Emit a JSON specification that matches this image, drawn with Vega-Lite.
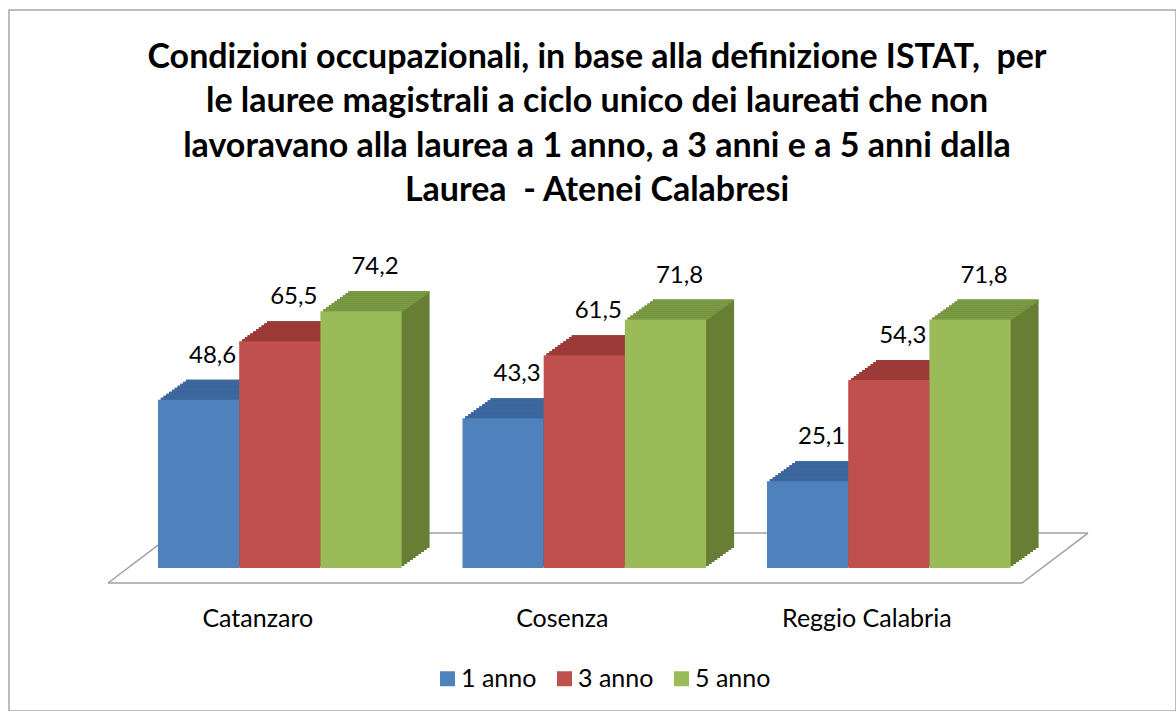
{
  "$schema": "https://vega.github.io/schema/vega-lite/v6.json",
  "autosize": "none",
  "width": 1167,
  "height": 701,
  "padding": {"left": 9, "top": 10, "right": 0, "bottom": 0},
  "background": "white",
  "config": {
    "font": "Lato",
    "view": {"stroke": "#a6a6a6", "strokeWidth": 1.5},
    "axisX": {"offset": -106, "domain": false, "ticks": false, "grid": false, "labelFontSize": 25, "labelFont": "Lato", "labelColor": "black", "labelPadding": 1, "labelOffset": -22, "labelAngle": 0},
    "axisY": {"disable": true}
  },
  "title": {
    "text": ["Condizioni occupazionali, in base alla definizione ISTAT,\u00a0 per", "le lauree magistrali a ciclo unico dei laureati che non", "lavoravano alla laurea a 1 anno, a 3 anni e a 5 anni dalla", "Laurea\u00a0 - Atenei Calabresi"],
    "font": "Lato", "fontSize": 34, "fontWeight": "bold", "color": "black", "lineHeight": 44.5,
    "anchor": "middle", "frame": "group", "baseline": "top", "offset": -198, "dx": 4.5
  },
  "data": {"values": [
    {"ateneo": "Catanzaro", "anno": "1 anno", "v": 48.6},
    {"ateneo": "Catanzaro", "anno": "3 anno", "v": 65.5},
    {"ateneo": "Catanzaro", "anno": "5 anno", "v": 74.2},
    {"ateneo": "Cosenza", "anno": "1 anno", "v": 43.3},
    {"ateneo": "Cosenza", "anno": "3 anno", "v": 61.5},
    {"ateneo": "Cosenza", "anno": "5 anno", "v": 71.8},
    {"ateneo": "Reggio Calabria", "anno": "1 anno", "v": 25.1},
    {"ateneo": "Reggio Calabria", "anno": "3 anno", "v": 54.3},
    {"ateneo": "Reggio Calabria", "anno": "5 anno", "v": 71.8}
  ]},
  "transform": [{"calculate": "replace(format(datum.v, '.1f'), '.', ',')", "as": "lab"}],
  "layer": [
    {
      "data": {"values": [{}]},
      "mark": {"type": "rule", "color": "#a0a0a0", "strokeWidth": 1.5, "xOffset": -50, "x2Offset": 11.4},
      "encoding": {
        "x": {"datum": "Catanzaro", "type": "nominal", "bandPosition": 0, "scale": {"domain": ["Catanzaro", "Cosenza", "Reggio Calabria"], "range": [96, 1054.6], "paddingInner": 0.2, "paddingOuter": 0.174}, "axis": {"title": null}},
        "x2": {"datum": "Reggio Calabria", "bandPosition": 1},
        "y": {"datum": -4.34, "type": "quantitative", "scale": {"domain": [0, 90], "range": [558, 246.6], "nice": false, "zero": false}, "axis": null}
      }
    },
    {
      "data": {"values": [{}]},
      "mark": {"type": "rule", "color": "#a0a0a0", "strokeWidth": 1.5, "xOffset": 16, "x2Offset": 77.4},
      "encoding": {
        "x": {"datum": "Catanzaro", "type": "nominal", "bandPosition": 0, "axis": {"title": null}},
        "x2": {"datum": "Reggio Calabria", "bandPosition": 1},
        "y": {"datum": 10.1, "type": "quantitative", "axis": null}
      }
    },
    {
      "data": {"values": [{}]},
      "mark": {"type": "rule", "color": "#a0a0a0", "strokeWidth": 1.5, "xOffset": -50, "x2Offset": 16},
      "encoding": {
        "x": {"datum": "Catanzaro", "type": "nominal", "bandPosition": 0, "axis": {"title": null}},
        "x2": {"datum": "Catanzaro", "bandPosition": 0},
        "y": {"datum": -4.34, "type": "quantitative", "axis": null},
        "y2": {"datum": 10.1}
      }
    },
    {
      "data": {"values": [{}]},
      "mark": {"type": "rule", "color": "#a0a0a0", "strokeWidth": 1.5, "xOffset": 11.4, "x2Offset": 77.4},
      "encoding": {
        "x": {"datum": "Reggio Calabria", "type": "nominal", "bandPosition": 1, "axis": {"title": null}},
        "x2": {"datum": "Reggio Calabria", "bandPosition": 1},
        "y": {"datum": -4.34, "type": "quantitative", "axis": null},
        "y2": {"datum": 10.1}
      }
    },
    {
      "encoding": {
        "x": {"field": "ateneo", "type": "nominal", "axis": {"title": null}},
        "y": {"field": "v", "type": "quantitative", "axis": null},
        "y2": {"datum": 0},
        "fill": {"field": "anno", "type": "nominal", "scale": {"domain": ["1 anno", "3 anno", "5 anno"], "range": ["#33578a", "#8a302d", "#687e35"]}, "legend": null}
      },
      "layer": [
        {"mark": {"type": "bar", "yOffset": -20, "y2Offset": -20}, "encoding": {"xOffset": {"field": "anno", "type": "nominal", "scale": {"domain": ["1 anno", "3 anno", "5 anno"], "range": [28, 271.6], "paddingInner": 0, "paddingOuter": 0}}}},
        {"mark": {"type": "bar", "yOffset": -18, "y2Offset": -18}, "encoding": {"xOffset": {"field": "anno", "type": "nominal", "scale": {"domain": ["1 anno", "3 anno", "5 anno"], "range": [25.2, 268.8], "paddingInner": 0, "paddingOuter": 0}}}},
        {"mark": {"type": "bar", "yOffset": -16, "y2Offset": -16}, "encoding": {"xOffset": {"field": "anno", "type": "nominal", "scale": {"domain": ["1 anno", "3 anno", "5 anno"], "range": [22.4, 266], "paddingInner": 0, "paddingOuter": 0}}}},
        {"mark": {"type": "bar", "yOffset": -14, "y2Offset": -14}, "encoding": {"xOffset": {"field": "anno", "type": "nominal", "scale": {"domain": ["1 anno", "3 anno", "5 anno"], "range": [19.6, 263.2], "paddingInner": 0, "paddingOuter": 0}}}},
        {"mark": {"type": "bar", "yOffset": -12, "y2Offset": -12}, "encoding": {"xOffset": {"field": "anno", "type": "nominal", "scale": {"domain": ["1 anno", "3 anno", "5 anno"], "range": [16.8, 260.4], "paddingInner": 0, "paddingOuter": 0}}}},
        {"mark": {"type": "bar", "yOffset": -10, "y2Offset": -10}, "encoding": {"xOffset": {"field": "anno", "type": "nominal", "scale": {"domain": ["1 anno", "3 anno", "5 anno"], "range": [14, 257.6], "paddingInner": 0, "paddingOuter": 0}}}},
        {"mark": {"type": "bar", "yOffset": -8, "y2Offset": -8}, "encoding": {"xOffset": {"field": "anno", "type": "nominal", "scale": {"domain": ["1 anno", "3 anno", "5 anno"], "range": [11.2, 254.8], "paddingInner": 0, "paddingOuter": 0}}}},
        {"mark": {"type": "bar", "yOffset": -6, "y2Offset": -6}, "encoding": {"xOffset": {"field": "anno", "type": "nominal", "scale": {"domain": ["1 anno", "3 anno", "5 anno"], "range": [8.4, 252], "paddingInner": 0, "paddingOuter": 0}}}},
        {"mark": {"type": "bar", "yOffset": -4, "y2Offset": -4}, "encoding": {"xOffset": {"field": "anno", "type": "nominal", "scale": {"domain": ["1 anno", "3 anno", "5 anno"], "range": [5.6, 249.2], "paddingInner": 0, "paddingOuter": 0}}}},
        {"mark": {"type": "bar", "yOffset": -2, "y2Offset": -2}, "encoding": {"xOffset": {"field": "anno", "type": "nominal", "scale": {"domain": ["1 anno", "3 anno", "5 anno"], "range": [2.8, 246.4], "paddingInner": 0, "paddingOuter": 0}}}}
      ],
      "resolve": {"scale": {"xOffset": "independent"}}
    },
    {
      "encoding": {
        "x": {"field": "ateneo", "type": "nominal", "axis": {"title": null}},
        "y": {"field": "v", "type": "quantitative", "axis": null},
        "y2": {"field": "v"},
        "fill": {"field": "anno", "type": "nominal", "scale": {"domain": ["1 anno", "3 anno", "5 anno"], "range": ["#3d69a0", "#9c3b38", "#7b9a44"]}, "legend": null}
      },
      "layer": [
        {"mark": {"type": "bar", "yOffset": -20, "y2Offset": -18}, "encoding": {"xOffset": {"field": "anno", "type": "nominal", "scale": {"domain": ["1 anno", "3 anno", "5 anno"], "range": [28, 271.6], "paddingInner": 0, "paddingOuter": 0}}}},
        {"mark": {"type": "bar", "yOffset": -18, "y2Offset": -16}, "encoding": {"xOffset": {"field": "anno", "type": "nominal", "scale": {"domain": ["1 anno", "3 anno", "5 anno"], "range": [25.2, 268.8], "paddingInner": 0, "paddingOuter": 0}}}},
        {"mark": {"type": "bar", "yOffset": -16, "y2Offset": -14}, "encoding": {"xOffset": {"field": "anno", "type": "nominal", "scale": {"domain": ["1 anno", "3 anno", "5 anno"], "range": [22.4, 266], "paddingInner": 0, "paddingOuter": 0}}}},
        {"mark": {"type": "bar", "yOffset": -14, "y2Offset": -12}, "encoding": {"xOffset": {"field": "anno", "type": "nominal", "scale": {"domain": ["1 anno", "3 anno", "5 anno"], "range": [19.6, 263.2], "paddingInner": 0, "paddingOuter": 0}}}},
        {"mark": {"type": "bar", "yOffset": -12, "y2Offset": -10}, "encoding": {"xOffset": {"field": "anno", "type": "nominal", "scale": {"domain": ["1 anno", "3 anno", "5 anno"], "range": [16.8, 260.4], "paddingInner": 0, "paddingOuter": 0}}}},
        {"mark": {"type": "bar", "yOffset": -10, "y2Offset": -8}, "encoding": {"xOffset": {"field": "anno", "type": "nominal", "scale": {"domain": ["1 anno", "3 anno", "5 anno"], "range": [14, 257.6], "paddingInner": 0, "paddingOuter": 0}}}},
        {"mark": {"type": "bar", "yOffset": -8, "y2Offset": -6}, "encoding": {"xOffset": {"field": "anno", "type": "nominal", "scale": {"domain": ["1 anno", "3 anno", "5 anno"], "range": [11.2, 254.8], "paddingInner": 0, "paddingOuter": 0}}}},
        {"mark": {"type": "bar", "yOffset": -6, "y2Offset": -4}, "encoding": {"xOffset": {"field": "anno", "type": "nominal", "scale": {"domain": ["1 anno", "3 anno", "5 anno"], "range": [8.4, 252], "paddingInner": 0, "paddingOuter": 0}}}},
        {"mark": {"type": "bar", "yOffset": -4, "y2Offset": -2}, "encoding": {"xOffset": {"field": "anno", "type": "nominal", "scale": {"domain": ["1 anno", "3 anno", "5 anno"], "range": [5.6, 249.2], "paddingInner": 0, "paddingOuter": 0}}}},
        {"mark": {"type": "bar", "yOffset": -2, "y2Offset": 0}, "encoding": {"xOffset": {"field": "anno", "type": "nominal", "scale": {"domain": ["1 anno", "3 anno", "5 anno"], "range": [2.8, 246.4], "paddingInner": 0, "paddingOuter": 0}}}}
      ],
      "resolve": {"scale": {"xOffset": "independent"}}
    },
    {
      "mark": {"type": "bar"},
      "encoding": {
        "x": {"field": "ateneo", "type": "nominal", "axis": {"title": null}},
        "xOffset": {"field": "anno", "type": "nominal", "scale": {"domain": ["1 anno", "3 anno", "5 anno"], "range": [0, 243.6], "paddingInner": 0, "paddingOuter": 0}},
        "y": {"field": "v", "type": "quantitative", "axis": null},
        "y2": {"datum": 0},
        "color": {"field": "anno", "type": "nominal", "scale": {"domain": ["1 anno", "3 anno", "5 anno"], "range": ["#4f81bd", "#c0504d", "#9bbb59"]},
          "legend": {"orient": "none", "legendX": 426, "legendY": 656, "direction": "horizontal", "title": null, "symbolType": "square", "symbolSize": 225, "symbolStrokeWidth": 0, "labelFontSize": 25, "labelFont": "Lato", "labelColor": "black", "labelOffset": 1, "columnPadding": 15, "padding": 0}}
      }
    },
    {
      "mark": {"type": "text", "dx": 14, "dy": -44, "baseline": "middle", "align": "center", "fontSize": 24, "font": "Lato", "color": "black"},
      "encoding": {
        "x": {"field": "ateneo", "type": "nominal", "axis": {"title": null}},
        "xOffset": {"field": "anno", "type": "nominal", "scale": {"type": "band", "domain": ["1 anno", "3 anno", "5 anno"], "range": [0, 243.6], "paddingInner": 0, "paddingOuter": 0}},
        "y": {"field": "v", "type": "quantitative", "axis": null},
        "text": {"field": "lab"}
      }
    }
  ],
  "resolve": {"scale": {"fill": "independent", "xOffset": "independent"}}
}
